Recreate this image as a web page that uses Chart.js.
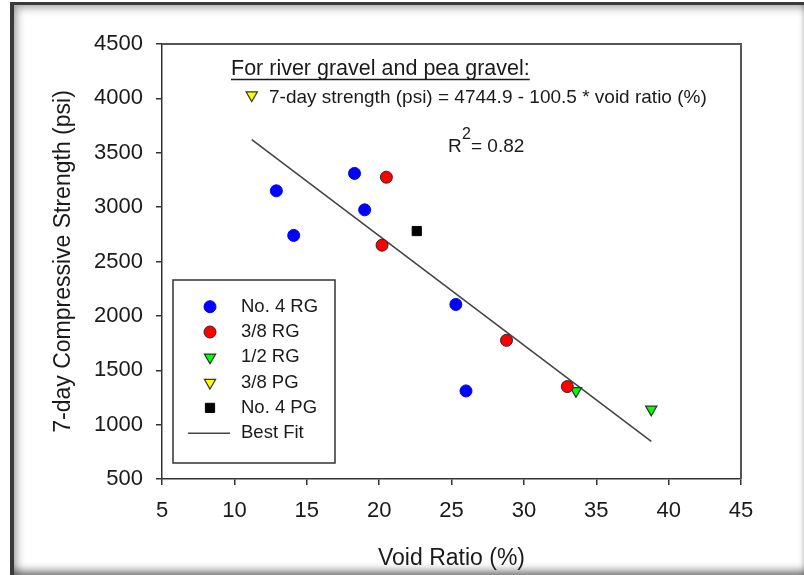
<!DOCTYPE html>
<html lang="en">
<head>
<meta charset="UTF-8">
<title>7-day strength vs void ratio</title>
<style>
  body { margin: 0; background: #fff; }
  #wrap { position: relative; width: 804px; height: 575px; overflow: hidden; }
  #frame {
    position: absolute; left: 10px; top: 2px; width: 794px; height: 573px;
    box-sizing: border-box;
    border-left: 4px solid #3a3a3a; border-top: 3px solid #3a3a3a;
    box-shadow: inset 6px 6px 8px -3px rgba(0,0,0,0.35),
                inset 0 -10px 8px -6px rgba(0,0,0,0.55),
                inset -5px 0 4px -3px rgba(0,0,0,0.15);
  }
  canvas { position: absolute; left: 0; top: 0; }
</style>
</head>
<body>
<div id="wrap">
  <div id="frame"></div>
  <canvas id="strengthChart" width="804" height="575"></canvas>
</div>

<script src="https://cdn.jsdelivr.net/npm/chart.js"></script>
<script>
  // void ratio (%) / 7-day compressive strength (psi) for each mix
  const rg4Void = [12.9, 14.1, 18.3, 19.0, 25.3, 26.0];
  const rg4Str  = [3150, 2740, 3310, 2975, 2105, 1310];
  const rg38Void = [20.5, 20.2, 28.8, 33.0];
  const rg38Str  = [3275, 2650, 1775, 1350];
  const rg12Void = [33.6, 38.8];
  const rg12Str  = [1310, 1140];
  const pg38Void = [11.2];
  const pg38Str  = [4030];
  const pg4Void = [22.6];
  const pg4Str  = [2780];
  // best fit line end points
  const fitVoid = [11.2, 38.8];
  const fitStr  = [3620, 845];

  const xTicks = [5, 10, 15, 20, 25, 30, 35, 40, 45];
  const yTicks = [500, 1000, 1500, 2000, 2500, 3000, 3500, 4000, 4500];

  const FONT = "Arial, 'Liberation Sans', sans-serif";
  const pts = (xs, ys) => xs.map((x, i) => ({ x: x, y: ys[i] }));

  // box around the plot: top and right edges
  const plotBox = {
    id: 'plotBox',
    beforeDatasetsDraw(chart) {
      const { ctx, chartArea: a } = chart;
      ctx.save();
      ctx.strokeStyle = '#555';
      ctx.lineWidth = 2;
      ctx.beginPath();
      ctx.moveTo(a.left, a.top);
      ctx.lineTo(a.right, a.top);
      ctx.lineTo(a.right, a.bottom);
      ctx.stroke();
      ctx.restore();
    }
  };

  // regression note in the upper part of the plot
  const fitNote = {
    id: 'fitNote',
    afterDraw(chart) {
      const ctx = chart.ctx;
      ctx.save();
      ctx.fillStyle = '#1a1a1a';
      ctx.textBaseline = 'alphabetic';
      ctx.textAlign = 'left';

      ctx.font = '21.5px ' + FONT;
      const head = 'For river gravel and pea gravel:';
      ctx.fillText(head, 231, 75);
      const w = ctx.measureText(head).width;
      ctx.strokeStyle = '#1a1a1a';
      ctx.lineWidth = 1.5;
      ctx.beginPath();
      ctx.moveTo(231, 79.5);
      ctx.lineTo(231 + w, 79.5);
      ctx.stroke();

      ctx.font = '19px ' + FONT;
      ctx.fillText('7-day strength (psi) = 4744.9 - 100.5 * void ratio (%)', 269, 103);

      ctx.fillText('R', 448, 152);
      ctx.font = '16px ' + FONT;
      ctx.fillText('2', 462, 139);
      ctx.font = '19px ' + FONT;
      ctx.fillText('= 0.82', 471, 152);
      ctx.restore();
    }
  };

  // boxed legend in the lower left of the plot
  const boxLegend = {
    id: 'boxLegend',
    afterDraw(chart) {
      const ctx = chart.ctx;
      ctx.save();
      ctx.fillStyle = '#fff';
      ctx.fillRect(173, 280, 162, 183);
      ctx.strokeStyle = '#333';
      ctx.lineWidth = 1.5;
      ctx.strokeRect(173, 280, 162, 183);

      chart.data.datasets.forEach((ds, i) => {
        const y = 306.7 + i * 25.3;
        if (ds.showLine) {
          ctx.strokeStyle = ds.borderColor;
          ctx.lineWidth = ds.borderWidth;
          ctx.beginPath();
          ctx.moveTo(188, y);
          ctx.lineTo(230, y);
          ctx.stroke();
        } else {
          ctx.fillStyle = ds.backgroundColor;
          ctx.strokeStyle = ds.borderColor;
          ctx.lineWidth = ds.borderWidth;
          Chart.helpers.drawPoint(ctx, {
            pointStyle: ds.pointStyle,
            radius: ds.pointRadius,
            rotation: ds.pointRotation || 0,
            borderWidth: ds.borderWidth
          }, 210, y);
        }
        ctx.fillStyle = '#1a1a1a';
        ctx.font = '18.5px ' + FONT;
        ctx.textBaseline = 'middle';
        ctx.textAlign = 'left';
        ctx.fillText(ds.label, 241, y);
      });
      ctx.restore();
    }
  };

  const axisStyle = {
    grid: { drawOnChartArea: false, drawTicks: true, tickLength: 6, color: '#333', lineWidth: 1.5 },
    border: { display: true, color: '#333', width: 1.5 }
  };

  new Chart(document.getElementById('strengthChart'), {
    type: 'scatter',
    data: {
      datasets: [
        { label: 'No. 4 RG', data: pts(rg4Void, rg4Str), pointStyle: 'circle', pointRadius: 6,
          backgroundColor: '#0000ff', borderColor: '#0000ff', borderWidth: 1 },
        { label: '3/8 RG', data: pts(rg38Void, rg38Str), pointStyle: 'circle', pointRadius: 6,
          backgroundColor: '#ff0000', borderColor: '#3a2020', borderWidth: 1 },
        { label: '1/2 RG', data: pts(rg12Void, rg12Str), pointStyle: 'triangle', pointRotation: 180, pointRadius: 6.5,
          backgroundColor: '#00ff00', borderColor: '#203a20', borderWidth: 1.2 },
        { label: '3/8 PG', data: pts(pg38Void, pg38Str), pointStyle: 'triangle', pointRotation: 180, pointRadius: 6.5,
          backgroundColor: '#ffff00', borderColor: '#3a3a20', borderWidth: 1.2 },
        { label: 'No. 4 PG', data: pts(pg4Void, pg4Str), pointStyle: 'rect', pointRadius: 6.5,
          backgroundColor: '#000000', borderColor: '#000000', borderWidth: 1 },
        { label: 'Best Fit', data: pts(fitVoid, fitStr), showLine: true, pointRadius: 0,
          borderColor: '#444', backgroundColor: '#444', borderWidth: 1.6 }
      ]
    },
    options: {
      responsive: false,
      animation: false,
      layout: { padding: { left: 50, right: 63, top: 44, bottom: 3 } },
      plugins: { legend: { display: false }, tooltip: { enabled: false } },
      scales: {
        x: {
          type: 'linear', min: 5, max: 45,
          afterBuildTicks: (s) => { s.ticks = xTicks.map(v => ({ value: v })); },
          afterFit: (s) => { s.height = 93; },
          ticks: { font: { family: FONT, size: 22 }, color: '#1a1a1a', padding: 13, maxRotation: 0,
                   callback: (v) => String(v) },
          title: { display: true, text: 'Void Ratio (%)', font: { family: FONT, size: 23 }, color: '#1a1a1a', padding: 0 },
          ...axisStyle
        },
        y: {
          type: 'linear', min: 500, max: 4500,
          afterBuildTicks: (s) => { s.ticks = yTicks.map(v => ({ value: v })); },
          afterFit: (s) => { s.width = 112; },
          ticks: { font: { family: FONT, size: 22 }, color: '#1a1a1a', padding: 13,
                   callback: (v) => String(v) },
          title: { display: true, text: '7-day Compressive Strength (psi)', font: { family: FONT, size: 23 }, color: '#1a1a1a', padding: 0 },
          ...axisStyle
        }
      }
    },
    plugins: [plotBox, fitNote, boxLegend]
  });
</script>
</body>
</html>
